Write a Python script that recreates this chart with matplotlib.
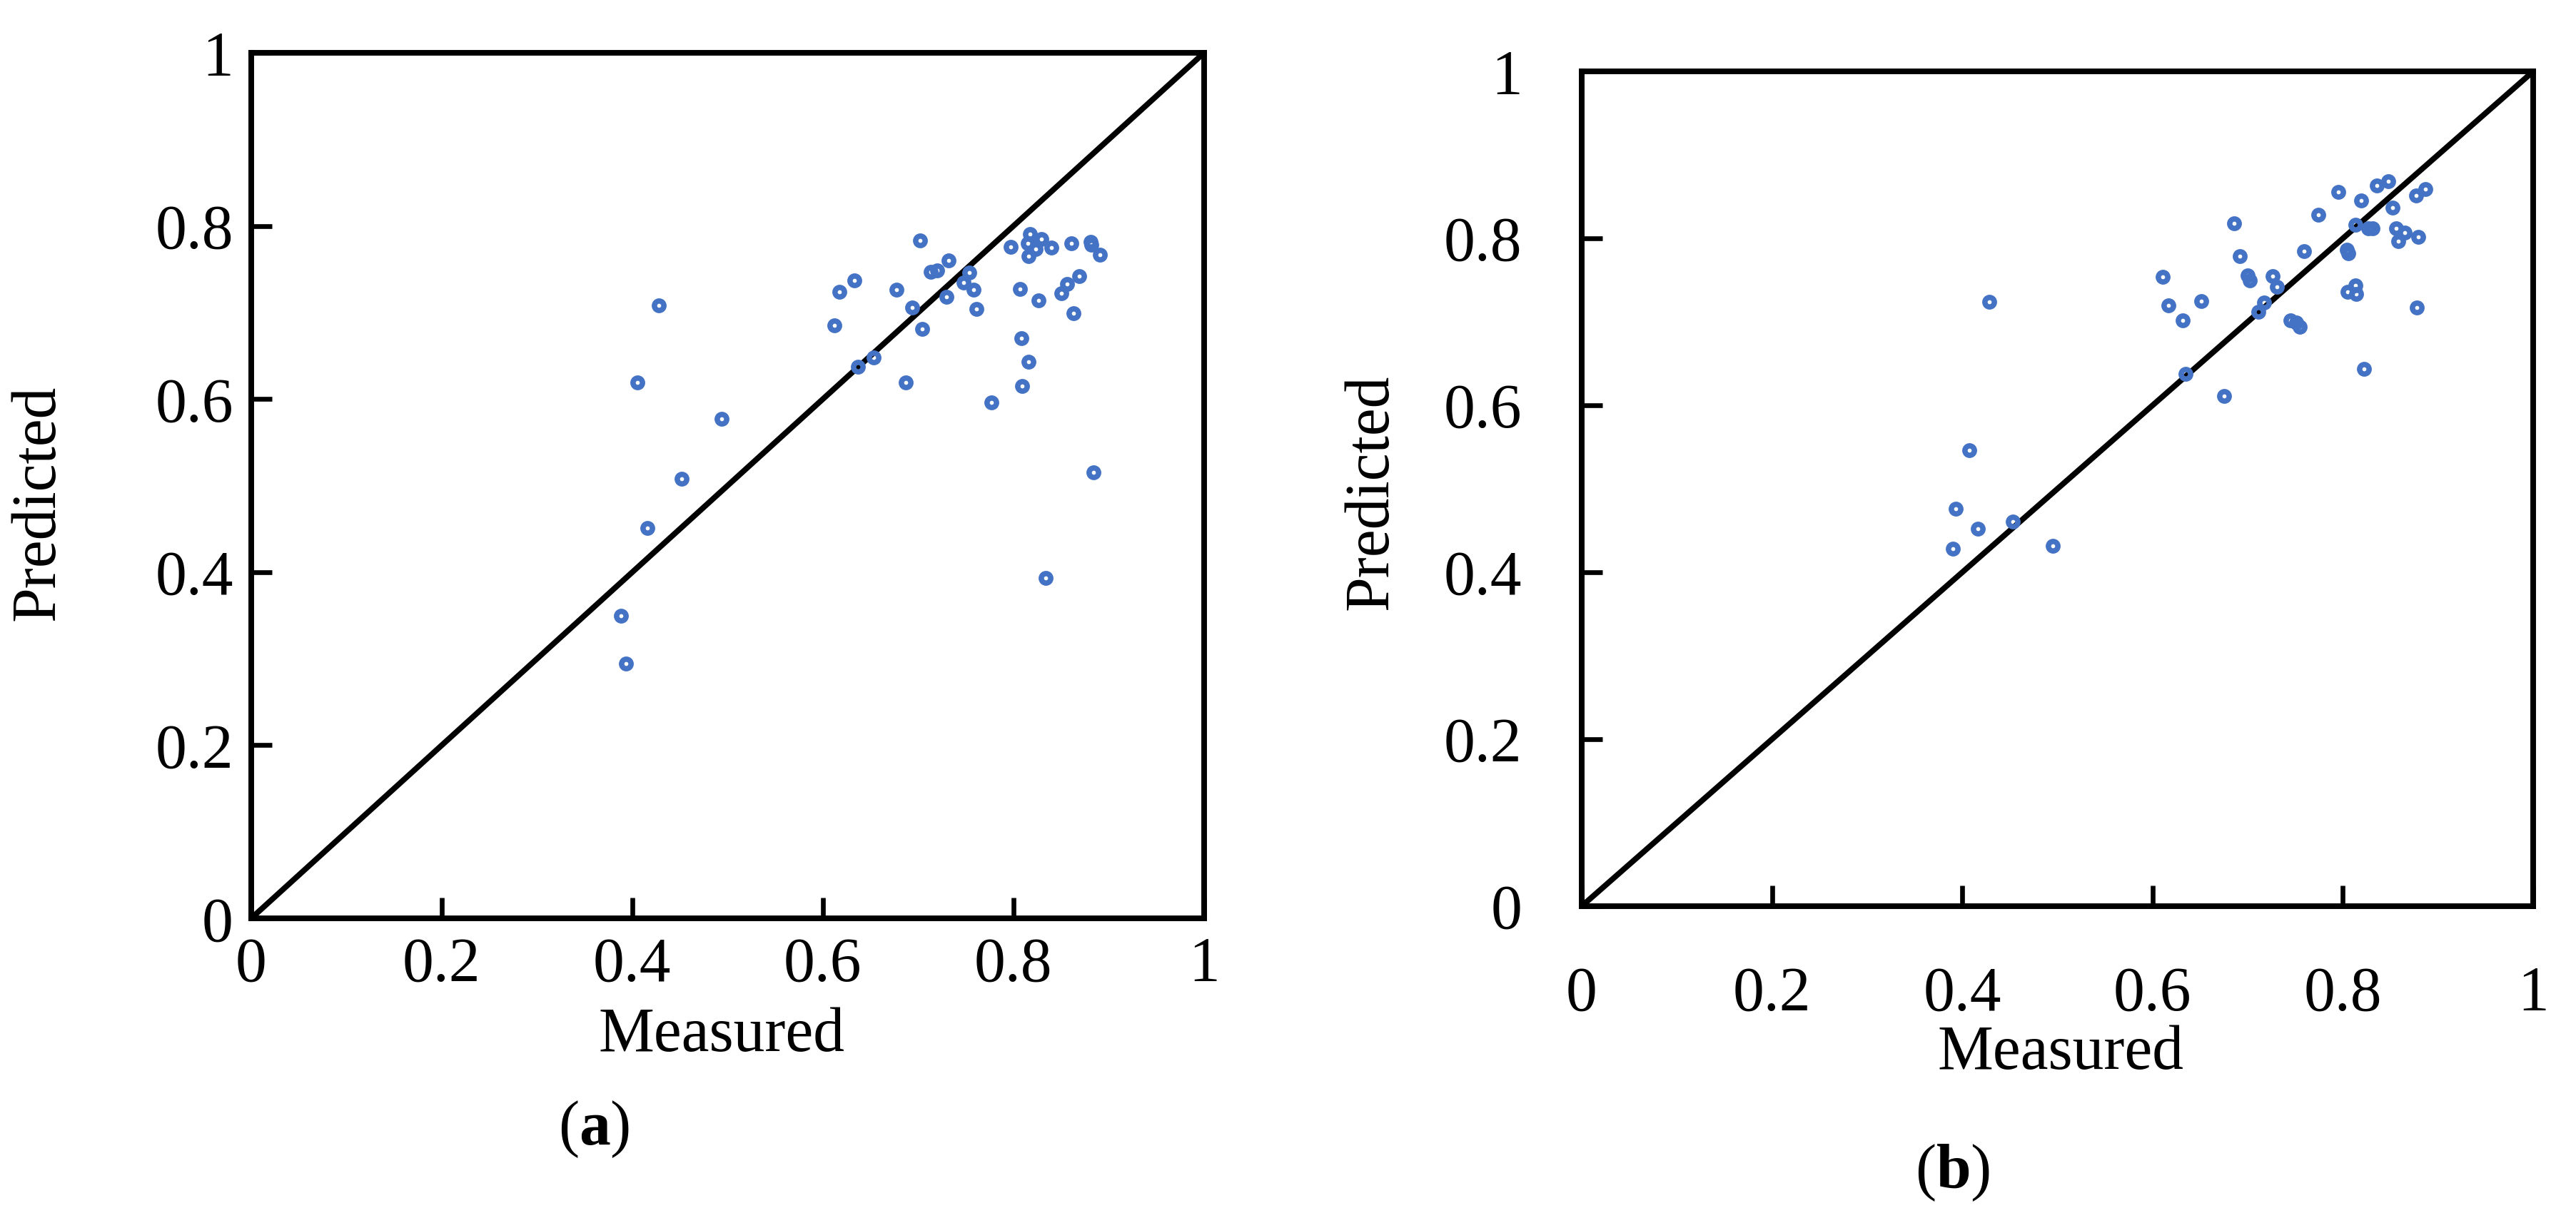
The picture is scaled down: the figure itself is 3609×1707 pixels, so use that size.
import matplotlib
matplotlib.use("Agg")
import matplotlib.pyplot as plt

plt.rcParams['font.family'] = ['Liberation Serif', 'DejaVu Serif']
plt.rcParams['mathtext.fontset'] = 'custom'
plt.rcParams['mathtext.rm'] = 'Liberation Serif'
plt.rcParams['mathtext.bf'] = 'Liberation Serif:bold'

# (a) measured vs predicted
meas_a = [0.702, 0.817, 0.829, 0.797, 0.815, 0.823, 0.840, 0.861, 0.881, 0.882,
          0.891, 0.816, 0.732, 0.713, 0.720, 0.754, 0.748, 0.758, 0.730, 0.633,
          0.617, 0.677, 0.694, 0.612, 0.704, 0.761, 0.807, 0.826, 0.869, 0.856,
          0.850, 0.863, 0.808, 0.816, 0.809, 0.777, 0.687, 0.653, 0.637, 0.428,
          0.405, 0.494, 0.452, 0.416, 0.884, 0.834, 0.388, 0.393]
pred_a = [0.783, 0.791, 0.785, 0.776, 0.780, 0.773, 0.775, 0.780, 0.782, 0.778,
          0.767, 0.765, 0.760, 0.747, 0.749, 0.746, 0.735, 0.726, 0.718, 0.737,
          0.724, 0.726, 0.706, 0.685, 0.681, 0.704, 0.727, 0.714, 0.742, 0.733,
          0.722, 0.699, 0.670, 0.643, 0.615, 0.596, 0.619, 0.648, 0.637, 0.708,
          0.619, 0.577, 0.508, 0.451, 0.515, 0.393, 0.350, 0.294]

# (b) measured vs predicted
meas_b = [0.795, 0.836, 0.848, 0.819, 0.887, 0.877, 0.852, 0.774, 0.813, 0.827,
          0.831, 0.856, 0.865, 0.858, 0.879, 0.686, 0.692, 0.759, 0.804, 0.806,
          0.611, 0.700, 0.702, 0.726, 0.731, 0.617, 0.651, 0.717, 0.711, 0.632,
          0.745, 0.751, 0.755, 0.805, 0.813, 0.814, 0.878, 0.822, 0.635, 0.675,
          0.428, 0.407, 0.393, 0.416, 0.453, 0.390, 0.495]
pred_b = [0.856, 0.863, 0.868, 0.845, 0.859, 0.851, 0.837, 0.828, 0.816, 0.812,
          0.812, 0.812, 0.807, 0.797, 0.802, 0.818, 0.779, 0.785, 0.786, 0.782,
          0.754, 0.756, 0.750, 0.755, 0.742, 0.720, 0.725, 0.723, 0.712, 0.702,
          0.702, 0.699, 0.694, 0.736, 0.744, 0.733, 0.717, 0.644, 0.638, 0.611,
          0.724, 0.546, 0.476, 0.452, 0.461, 0.428, 0.432]

ticks = [0, 0.2, 0.4, 0.6, 0.8, 1]
tick_labels = ['0', '0.2', '0.4', '0.6', '0.8', '1']

fig = plt.figure(figsize=(3609 / 300, 1707 / 300), dpi=300)
ax_a = fig.add_axes([0.0975, 0.246, 0.3699, 0.7106])
ax_b = fig.add_axes([0.614, 0.256, 0.3694, 0.6854])

fs = 21
panels = [(ax_a, meas_a, pred_a, 'a', 6, 0.36, 0.073),
          (ax_b, meas_b, pred_b, 'b', 20, 0.39, 0.037)]
for ax, xs, ys, tag, pad, cap_x, cap_y in panels:
    ax.plot([0, 1], [0, 1], color='black', lw=1.9, zorder=2)
    ax.plot(xs, ys, linestyle='none', marker='o', ms=3.2, mew=1.8,
            mfc='none', mec='#4472C4', zorder=3, clip_on=False)
    ax.set_xlim(0, 1)
    ax.set_ylim(0, 1)
    ax.set_xticks(ticks)
    ax.set_yticks(ticks)
    ax.set_xticklabels(tick_labels)
    ax.set_yticklabels(tick_labels)
    ax.tick_params(direction='in', length=7, width=1.6, labelsize=fs, pad=pad)
    for s in ax.spines.values():
        s.set_linewidth(1.9)
    ax.set_xlabel('Measured', fontsize=fs)
    ax.set_ylabel('Predicted', fontsize=fs)
    trans = matplotlib.transforms.blended_transform_factory(ax.transAxes, fig.transFigure)
    ax.text(cap_x, cap_y, r'($\mathbf{' + tag + r'}$)', fontsize=fs,
            ha='center', va='center', transform=trans)

ax_a.xaxis.set_label_coords(0.494, -0.102)
ax_a.yaxis.set_label_coords(-0.193, 0.48)
ax_b.xaxis.set_label_coords(0.503, -0.142)
ax_b.yaxis.set_label_coords(-0.19, 0.496)

fig.savefig('out.png', dpi=300)
